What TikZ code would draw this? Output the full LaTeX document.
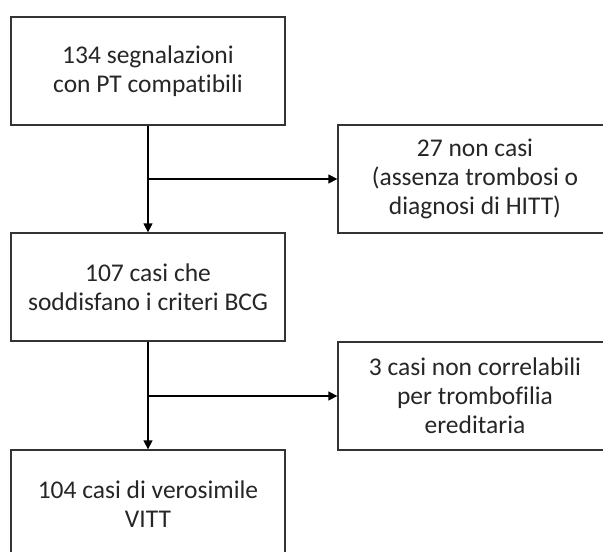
\documentclass[tikz,border=0pt]{standalone}
\usepackage{fontspec}
\setmainfont[Ligatures={NoCommon}]{Carlito}
\usetikzlibrary{arrows.meta}
\tikzset{>={Triangle[length=9pt,width=9pt]}}

\begin{document}
\begin{tikzpicture}[x=1pt,y=1pt]
  % left column = cases kept, right column = cases dropped
  \tikzstyle{every node}=[draw=black!80, text=black!85, line width=1.3pt, minimum width=274pt, minimum height=108pt, align=center, font=\fontsize{25.5}{29}\selectfont, node distance=216pt]
  \useasboundingbox (0,0) rectangle (603,-552);
  \clip (0,0) rectangle (603,-552);
  \node (seg) at (148,-71) {134 segnalazioni\\con PT compatibili};
  \node (bcg) [below of = seg] {107 casi che\\soddisfano i criteri BCG};
  \node (vitt) [below of = bcg, yshift=-1pt] {104 casi di verosimile\\VITT};
  \node (noncasi) at (475,-179) {27 non casi\\(assenza trombosi o\\diagnosi di HITT)};
  \node (trombo) at (475,-396) {3 casi non correlabili\\per trombofilia\\ereditaria};

  \draw[->, line width=1.3pt] (seg) -- (bcg);
  \draw[->, line width=1.3pt] (seg.south |- noncasi) -- (noncasi);
  \draw[->, line width=1.3pt] (bcg) -- (vitt);
  \draw[->, line width=1.3pt] (bcg.south |- trombo) -- (trombo);
\end{tikzpicture}
\end{document}
